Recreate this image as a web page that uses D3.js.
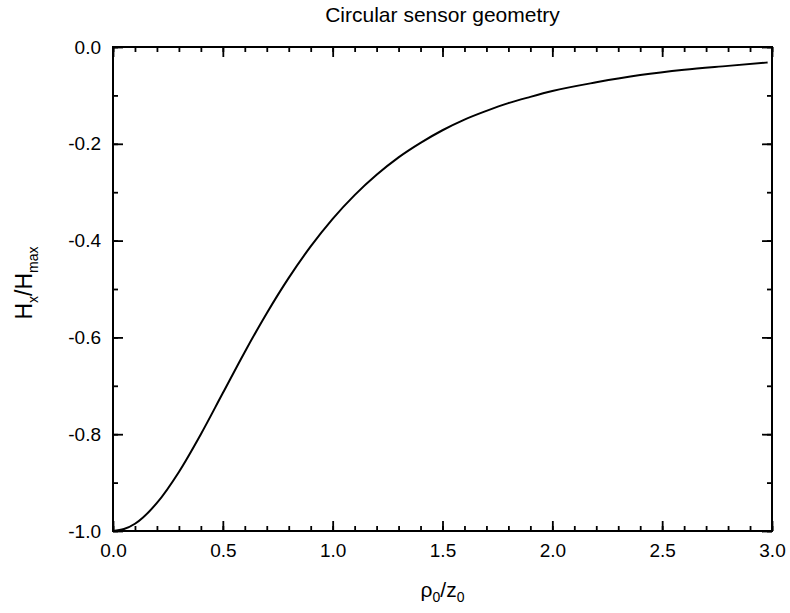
<!DOCTYPE html>
<html>
<head>
<meta charset="utf-8">
<script src="https://cdn.jsdelivr.net/npm/d3@7"></script>
<style>
  body { margin: 0; background: #fff; }
  text { font-family: "Liberation Sans", Arial, sans-serif; fill: #000; }
</style>
</head>
<body>
<div id="chart"></div>
<script>
// values
const rho = [0, 0.05, 0.1, 0.2, 0.3, 0.4, 0.5, 0.6, 0.7, 0.8, 0.9, 1.0, 1.1, 1.2, 1.3, 1.4, 1.5,
             1.6, 1.7, 1.8, 1.9, 2.0, 2.2, 2.4, 2.6, 2.8, 2.98]
const hx = [-1.0, -0.996, -0.985, -0.942, -0.878, -0.80, -0.715, -0.63, -0.55, -0.477, -0.412, -0.355,
            -0.306, -0.264, -0.228, -0.198, -0.172, -0.150, -0.132, -0.116, -0.103, -0.091,
            -0.073, -0.058, -0.047, -0.039, -0.032]
const xTicks = [0, 0.5, 1.0, 1.5, 2.0, 2.5, 3.0]
const yTicks = [0, -0.2, -0.4, -0.6, -0.8, -1.0]

const data = rho.map((r, i) => ({x: r, y: hx[i]}))

const W = 790, H = 613
const margin = {top: 47, right: 18, bottom: 82, left: 113}
const width = W - margin.left - margin.right,
      height = H - margin.top - margin.bottom

const svg = d3.select("#chart").append("svg")
  .attr("width", W).attr("height", H)

const g = svg.append("g")
  .attr("transform", `translate(${margin.left},${margin.top})`)

const x = d3.scaleLinear().domain([0, 3]).range([0, width])
const y = d3.scaleLinear().domain([-1, 0]).range([height, 0])

// plain hyphen like the original, not the unicode minus
const fmt = d => d3.format(".1f")(d).replace("−", "-")
const minorX = d3.range(0, 3.001, 0.1)
const minorY = d3.range(-1, 0.001, 0.1)

const styleAxis = sel => {
  sel.select(".domain").remove()
  sel.selectAll("line").attr("stroke", "#000").attr("stroke-width", 1.8)
  sel.selectAll("text").style("font-size", "19px")
}

// ticks on all four sides, pointing inward
g.append("g").attr("transform", `translate(0,${height})`)
  .call(d3.axisBottom(x).tickValues(minorX).tickSize(-5).tickFormat(""))
  .call(styleAxis)
g.append("g").attr("transform", `translate(0,${height})`)
  .call(d3.axisBottom(x).tickValues(xTicks).tickSize(-10).tickPadding(13).tickFormat(fmt))
  .call(styleAxis)

g.append("g")
  .call(d3.axisTop(x).tickValues(minorX).tickSize(-5).tickFormat(""))
  .call(styleAxis)
g.append("g")
  .call(d3.axisTop(x).tickValues(xTicks).tickSize(-10).tickFormat(""))
  .call(styleAxis)

g.append("g")
  .call(d3.axisLeft(y).tickValues(minorY).tickSize(-5).tickFormat(""))
  .call(styleAxis)
g.append("g")
  .call(d3.axisLeft(y).tickValues(yTicks).tickSize(-10).tickPadding(12).tickFormat(fmt))
  .call(styleAxis)

g.append("g").attr("transform", `translate(${width},0)`)
  .call(d3.axisRight(y).tickValues(minorY).tickSize(-5).tickFormat(""))
  .call(styleAxis)
g.append("g").attr("transform", `translate(${width},0)`)
  .call(d3.axisRight(y).tickValues(yTicks).tickSize(-10).tickFormat(""))
  .call(styleAxis)

// frame
g.append("rect")
  .attr("width", width).attr("height", height)
  .attr("fill", "none").attr("stroke", "#000").attr("stroke-width", 2)

// the curve
const line = d3.line()
  .x(d => x(d.x))
  .y(d => y(d.y))
  .curve(d3.curveMonotoneX)

g.append("path")
  .datum(data)
  .attr("fill", "none")
  .attr("stroke", "#000")
  .attr("stroke-width", 2)
  .attr("d", line)

// title
svg.append("text")
  .attr("x", margin.left + width / 2).attr("y", 22)
  .attr("text-anchor", "middle")
  .style("font-size", "21px")
  .text("Circular sensor geometry")

// x label
const xl = svg.append("text")
  .attr("x", margin.left + width / 2).attr("y", 597)
  .attr("text-anchor", "middle")
  .style("font-size", "21px")
xl.append("tspan").text("ρ")
xl.append("tspan").attr("dy", 5).style("font-size", "14px").text("0")
xl.append("tspan").attr("dy", -5).text("/z")
xl.append("tspan").attr("dy", 5).style("font-size", "14px").text("0")

// y label
const yl = svg.append("text")
  .attr("transform", `translate(32,283) rotate(-90)`)
  .attr("text-anchor", "middle")
  .style("font-size", "23px")
yl.append("tspan").text("H")
yl.append("tspan").attr("dy", 6).style("font-size", "14px").text("x")
yl.append("tspan").attr("dy", -6).text("/H")
yl.append("tspan").attr("dy", 6).style("font-size", "14px").text("max")
</script>
</body>
</html>
